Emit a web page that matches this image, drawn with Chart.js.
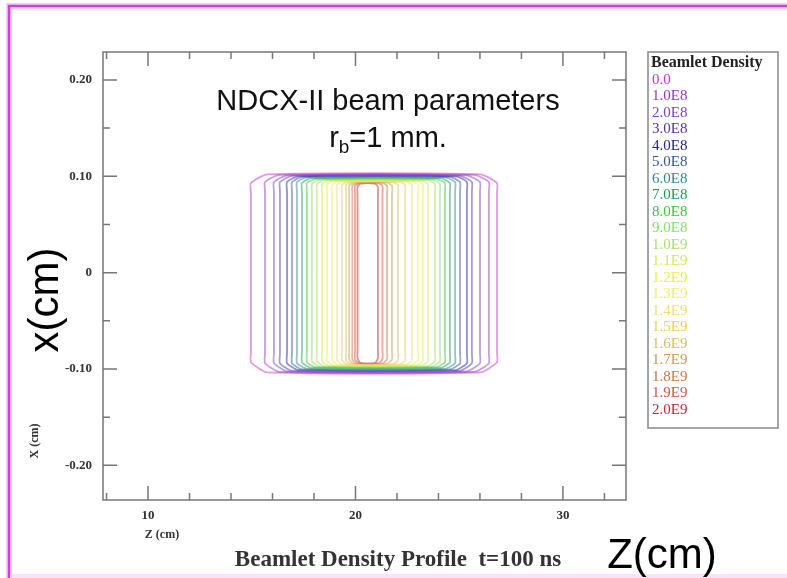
<!DOCTYPE html>
<html>
<head>
<meta charset="utf-8">
<script src="https://cdn.jsdelivr.net/npm/chart.js@4.4.0/dist/chart.umd.min.js"></script>
<style>
  html, body { margin: 0; padding: 0; background: #fff; }
  #wrap { width: 787px; height: 578px; position: relative; }
</style>
</head>
<body>
<div id="wrap"><canvas id="beamChart"></canvas></div>
<script>
// beamlet density contour levels (outer -> inner)
const levelLabels = ['0.0', '1.0E8', '2.0E8', '3.0E8', '4.0E8', '5.0E8', '6.0E8', '7.0E8', '8.0E8', '9.0E8',
  '1.0E9', '1.1E9', '1.2E9', '1.3E9', '1.4E9', '1.5E9', '1.6E9', '1.7E9', '1.8E9', '1.9E9', '2.0E9'];
const levelColors = ['#cc33cc', '#9933cc', '#7744cc', '#5533aa', '#222299', '#335599', '#338888', '#229955',
  '#33cc33', '#88dd66', '#aade66', '#ccee55', '#eeee44', '#eeee66', '#eedd77', '#eecc55', '#ddbb66',
  '#cc9955', '#cc7744', '#cc5544', '#cc2233'];

// contour sides, z (cm)
const zLeft = [14.96, 15.64, 16.07, 16.36, 16.70, 16.94, 17.18, 17.42, 17.66, 17.90, 18.14, 18.39, 18.63,
  18.87, 19.11, 19.35, 19.55, 19.70, 19.85, 19.98, 20.10];
const zRight = [26.82, 26.43, 26.00, 25.61, 25.37, 25.04, 24.80, 24.55, 24.31, 24.07, 23.83, 23.49, 23.25,
  23.01, 22.72, 22.39, 22.05, 21.76, 21.52, 21.30, 21.08];
// top / bottom edge of each contour, x (cm)
const xTop = [0.1020, 0.1015, 0.1010, 0.1005, 0.1000, 0.0994, 0.0988, 0.0980, 0.0972, 0.0966, 0.0960,
  0.0956, 0.0952, 0.0948, 0.0945, 0.0942, 0.0939, 0.0936, 0.0933, 0.0930, 0.0925];
const xBottom = [-0.1035, -0.1030, -0.1025, -0.1020, -0.1012, -0.1005, -0.0998, -0.0990, -0.0982, -0.0976,
  -0.0970, -0.0966, -0.0962, -0.0958, -0.0955, -0.0952, -0.0949, -0.0946, -0.0943, -0.0940, -0.0940];
// height where the straight sides turn into the corner
const xSide = [0.093, 0.094, 0.094, 0.094, 0.094, 0.094, 0.094, 0.093, 0.093, 0.092, 0.092, 0.092, 0.092,
  0.091, 0.091, 0.091, 0.091, 0.090, 0.090, 0.090, 0.089];
const cornerDz = [0.8, 0.7, 0.65, 0.6, 0.55, 0.5, 0.48, 0.45, 0.42, 0.4, 0.38, 0.36, 0.34, 0.32, 0.3, 0.28,
  0.26, 0.24, 0.22, 0.2, 0.15];

// axes
const xTickValues = [10, 20, 30];
const xMinorTicks = [8, 10, 12, 14, 16, 18, 20, 22, 24, 26, 28, 30, 32];
const yTickValues = [0.2, 0.1, 0, -0.1, -0.2];
const yTickLabels = ['0.20', '0.10', '0', '-0.10', '-0.20'];
const yMinorTicks = [0.2, 0.15, 0.1, 0.05, 0, -0.05, -0.1, -0.15, -0.2];

function hexA(hex, a) {
  const n = parseInt(hex.slice(1), 16);
  return 'rgba(' + (n >> 16) + ',' + ((n >> 8) & 255) + ',' + (n & 255) + ',' + a + ')';
}

const datasets = levelLabels.map((lab, i) => {
  const zL = zLeft[i], zR = zRight[i], c = cornerDz[i];
  const s = xSide[i], s2 = xSide[i] - 0.01;   // extra knot keeps the sides straight
  return {
    label: lab,
    data: [
      { x: zL, y: 0 }, { x: zL, y: s2 }, { x: zL, y: s }, { x: zL + c, y: xTop[i] },
      { x: zR - c, y: xTop[i] }, { x: zR, y: s }, { x: zR, y: s2 }, { x: zR, y: -s2 }, { x: zR, y: -s },
      { x: zR - c, y: xBottom[i] }, { x: zL + c, y: xBottom[i] }, { x: zL, y: -s }, { x: zL, y: -s2 },
      { x: zL, y: 0 }
    ],
    showLine: true,
    borderColor: hexA(levelColors[i], 0.5),
    borderWidth: 1.8,
    pointRadius: 0,
    tension: 0.2,
    fill: false
  };
});

const serif = '"Liberation Serif", "Times New Roman", serif';
const sans = '"Liberation Sans", Arial, sans-serif';

// frame, inward ticks, legend and labels
const framePlugin = {
  id: 'frame',
  beforeDraw(chart) {
    const ctx = chart.ctx;
    ctx.save();
    ctx.fillStyle = '#fff';
    ctx.fillRect(0, 0, chart.width, chart.height);
    // slide border
    ctx.strokeStyle = 'rgba(220,120,230,0.35)';
    ctx.lineWidth = 6;
    ctx.beginPath();
    ctx.moveTo(9, 578); ctx.lineTo(9, 6); ctx.lineTo(787, 6);
    ctx.stroke();
    ctx.strokeStyle = '#d23fd6';
    ctx.lineWidth = 2.5;
    ctx.stroke();
    ctx.fillStyle = 'rgba(240,210,245,0.6)';
    ctx.fillRect(10, 574, 777, 4);
    ctx.restore();
  },
  afterDraw(chart) {
    const ctx = chart.ctx;
    const a = chart.chartArea;
    const xs = chart.scales.x, ys = chart.scales.y;
    ctx.save();
    ctx.strokeStyle = '#777';
    ctx.lineWidth = 1.5;
    ctx.strokeRect(a.left, a.top, a.right - a.left, a.bottom - a.top);
    ctx.beginPath();
    xMinorTicks.forEach(v => {
      const px = xs.getPixelForValue(v);
      const len = xTickValues.includes(v) ? 14 : 7;
      ctx.moveTo(px, a.bottom); ctx.lineTo(px, a.bottom - len);
      ctx.moveTo(px, a.top); ctx.lineTo(px, a.top + len);
    });
    yMinorTicks.forEach(v => {
      const py = ys.getPixelForValue(v);
      const len = yTickValues.includes(v) ? 14 : 7;
      ctx.moveTo(a.left, py); ctx.lineTo(a.left + len, py);
      ctx.moveTo(a.right, py); ctx.lineTo(a.right - len, py);
    });
    ctx.stroke();

    // legend
    ctx.strokeStyle = '#888';
    ctx.lineWidth = 1.5;
    ctx.strokeRect(648, 52, 130, 376);
    ctx.textBaseline = 'middle';
    ctx.textAlign = 'left';
    ctx.fillStyle = '#222';
    ctx.font = 'bold 16px ' + serif;
    ctx.fillText('Beamlet Density', 651, 63);
    ctx.font = '15px ' + serif;
    levelLabels.forEach((lab, i) => {
      ctx.fillStyle = levelColors[i];
      ctx.fillText(lab, 652, 80 + i * 16.5);
    });

    // small plot labels
    ctx.fillStyle = '#333';
    ctx.textAlign = 'center';
    ctx.font = 'bold 12px ' + serif;
    ctx.fillText('Z (cm)', 162, 535);
    ctx.save();
    ctx.translate(35, 441);
    ctx.rotate(-Math.PI / 2);
    ctx.fillText('X (cm)', 0, 0);
    ctx.restore();
    ctx.font = 'bold 23px ' + serif;
    ctx.fillText('Beamlet Density Profile  t=100 ns', 398, 560);

    // slide annotations
    ctx.fillStyle = '#111';
    ctx.font = '29px ' + sans;
    ctx.fillText('NDCX-II beam parameters', 388, 102);
    ctx.textAlign = 'left';
    const r = 'r', sub = 'b', rest = '=1 mm.';
    const w1 = ctx.measureText(r).width, w3 = ctx.measureText(rest).width;
    ctx.font = '19px ' + sans;
    const w2 = ctx.measureText(sub).width;
    let x0 = 388 - (w1 + w2 + w3) / 2;
    ctx.font = '29px ' + sans;
    ctx.fillText(r, x0, 139);
    ctx.font = '19px ' + sans;
    ctx.fillText(sub, x0 + w1, 148);
    ctx.font = '29px ' + sans;
    ctx.fillText(rest, x0 + w1 + w2, 139);

    ctx.fillStyle = '#000';
    ctx.textAlign = 'center';
    ctx.font = '42px ' + sans;
    ctx.fillText('Z(cm)', 662, 556);
    ctx.save();
    ctx.translate(46, 300);
    ctx.rotate(-Math.PI / 2);
    ctx.fillText('x(cm)', 0, 0);
    ctx.restore();
    ctx.restore();
  }
};

const ctx1 = document.getElementById('beamChart');
const beamChart = new Chart(ctx1, {
  type: 'scatter',
  data: { datasets: datasets },
  options: {
    responsive: true,
    maintainAspectRatio: false,
    animation: false,
    layout: { padding: { left: 53, top: 52, right: 161, bottom: 48 } },
    plugins: {
      legend: { display: false },
      tooltip: { enabled: false }
    },
    scales: {
      x: {
        type: 'linear',
        min: 7.83,
        max: 33.04,
        grid: { display: false, drawTicks: false },
        border: { display: false },
        afterFit: (s) => { s.height = 30; },
        afterBuildTicks: (s) => { s.ticks = xTickValues.map(v => ({ value: v })); },
        ticks: {
          padding: 8,
          color: '#333',
          font: { family: serif, size: 13, weight: 'bold' },
          maxRotation: 0
        }
      },
      y: {
        type: 'linear',
        min: -0.236,
        max: 0.229,
        grid: { display: false, drawTicks: false },
        border: { display: false },
        afterFit: (s) => { s.width = 50; },
        afterBuildTicks: (s) => { s.ticks = yTickValues.map(v => ({ value: v })); },
        ticks: {
          padding: 11,
          color: '#333',
          font: { family: serif, size: 13, weight: 'bold' },
          callback: (v) => yTickLabels[yTickValues.indexOf(v)]
        }
      }
    }
  },
  plugins: [framePlugin]
});
</script>
</body>
</html>
